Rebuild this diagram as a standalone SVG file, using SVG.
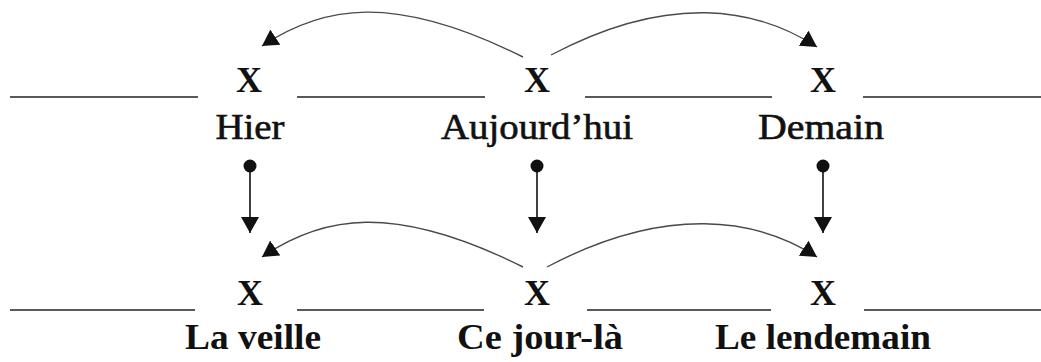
<svg xmlns="http://www.w3.org/2000/svg" width="1041" height="362" viewBox="0 0 1041 362">
<style>
.bg{fill:#ffffff}
.axis{stroke:#5a5a5a;stroke-width:2;fill:none}
.curve{stroke:#4a4a4a;stroke-width:1.4;fill:none}
.vert{stroke:#111;stroke-width:1.6;fill:none}
.x{font-family:"Liberation Serif","Times New Roman",serif;font-weight:bold;font-size:36px;fill:#111;text-anchor:middle}
.lt{font-family:"Liberation Serif","Times New Roman",serif;font-size:35px;fill:#111;stroke:#111;stroke-width:0.6;text-anchor:middle}
.lb{font-family:"Liberation Serif","Times New Roman",serif;font-weight:bold;font-size:36px;fill:#111;text-anchor:middle}
.dot{fill:#111}
</style>
<defs>
<marker id="ah" viewBox="0 0 16 18" refX="16" refY="9" markerWidth="16" markerHeight="18" markerUnits="userSpaceOnUse" orient="auto">
<path d="M0,0 L16,9 L0,18 z" fill="#111"/>
</marker>
</defs>
<rect class="bg" x="0" y="0" width="1041" height="362"/>
<g id="timelines">
<line class="axis" x1="10" y1="97" x2="198" y2="97"/>
<line class="axis" x1="297" y1="97" x2="485" y2="97"/>
<line class="axis" x1="585" y1="97" x2="772" y2="97"/>
<line class="axis" x1="863" y1="97" x2="1041" y2="97"/>
<line class="axis" x1="10" y1="310" x2="195" y2="310"/>
<line class="axis" x1="297" y1="310" x2="484" y2="310"/>
<line class="axis" x1="587" y1="310" x2="771" y2="310"/>
<line class="axis" x1="864" y1="310" x2="1041" y2="310"/>
</g>
<g id="hier">
<text class="x" x="249" y="92">X</text>
<text class="lt" x="250" y="139" textLength="69" lengthAdjust="spacingAndGlyphs">Hier</text>
</g>
<g id="aujourdhui">
<text class="x" x="537" y="92">X</text>
<text class="lt" x="537" y="139" textLength="192" lengthAdjust="spacingAndGlyphs">Aujourd’hui</text>
</g>
<g id="demain">
<text class="x" x="823" y="92">X</text>
<text class="lt" x="821" y="139" textLength="126" lengthAdjust="spacingAndGlyphs">Demain</text>
</g>
<g id="laveille">
<text class="x" x="250" y="305">X</text>
<text class="lb" x="253" y="349" textLength="136" lengthAdjust="spacingAndGlyphs">La veille</text>
</g>
<g id="cejourla">
<text class="x" x="537" y="305">X</text>
<text class="lb" x="540" y="349" textLength="166" lengthAdjust="spacingAndGlyphs">Ce jour-là</text>
</g>
<g id="lelendemain">
<text class="x" x="823" y="305">X</text>
<text class="lb" x="823" y="349" textLength="216" lengthAdjust="spacingAndGlyphs">Le lendemain</text>
</g>
<g id="connectors">
<path class="curve" d="M523,57 C393,-8 322,6 262,46" marker-end="url(#ah)"/>
<path class="curve" d="M551,55 C670,-8 757,8 817,47" marker-end="url(#ah)"/>
<path class="curve" d="M523,267 C393,202 322,216 262,257" marker-end="url(#ah)"/>
<path class="curve" d="M547,267 C666,204 757,218 817,257" marker-end="url(#ah)"/>
<circle class="dot" cx="250" cy="166" r="6.5"/>
<circle class="dot" cx="537" cy="166" r="6.5"/>
<circle class="dot" cx="823" cy="166" r="6.5"/>
<line class="vert" x1="250" y1="166" x2="250" y2="233" marker-end="url(#ah)"/>
<line class="vert" x1="537" y1="166" x2="537" y2="233" marker-end="url(#ah)"/>
<line class="vert" x1="823" y1="166" x2="823" y2="233" marker-end="url(#ah)"/>
</g>
</svg>
